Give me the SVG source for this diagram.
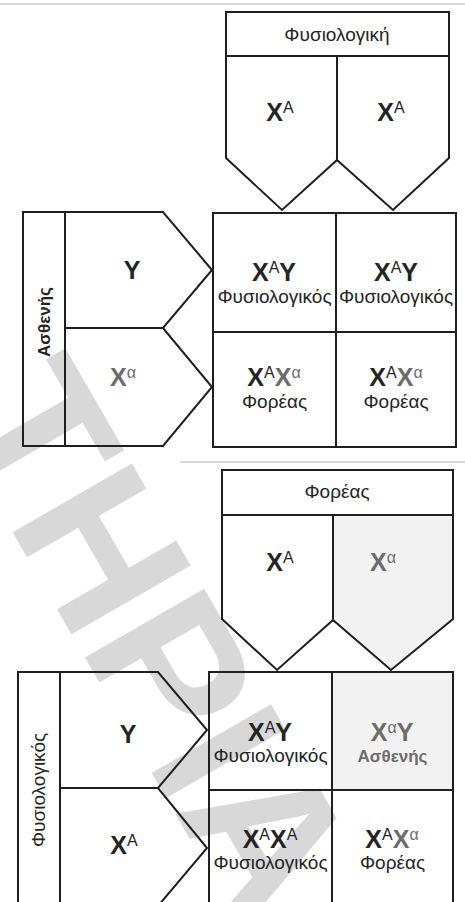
<svg xmlns="http://www.w3.org/2000/svg" width="465" height="902" viewBox="0 0 465 902">
<style>
.ln{fill:none;stroke:#1f1f1f;stroke-width:2;stroke-linejoin:miter}
.tx{font-family:"Liberation Sans",Arial,sans-serif;fill:#242424;text-anchor:middle}
.g{font-size:19px}
.gb{font-size:17px;font-weight:bold}
.al{font-size:25px;font-weight:bold}
.sp{font-size:16px;font-weight:normal}
.mu{fill:#6c6c6c}
.wm{font-family:"Liberation Sans",Arial,sans-serif;font-weight:bold;font-size:200px;fill:#d8d8d8}
.faint{stroke:#cfcad6;stroke-width:1.5}
.tint{fill:#f2f2f2;stroke:none}
</style>
<rect width="465" height="902" fill="#ffffff"/>
<line class="faint" x1="0" y1="4" x2="465" y2="4"/>
<line class="faint" x1="180" y1="462" x2="465" y2="462"/>
<path class="tint" d="M333,515 H453 V619 L391,670 L333,620 Z"/>
<rect class="tint" x="332" y="672" width="121" height="118"/>
<text class="wm" transform="translate(-55,415) rotate(60)">ΤΗΡΙΑ</text>

<g id="mother1-header"><rect class="ln" x="226" y="12" width="223" height="44"/><text class="tx g" x="337" y="41">Φυσιολογική</text></g>
<g id="mother1-allele1"><path class="ln" d="M226,56 H337 V160 L282,210 L226,158 Z"/><text class="tx" x="280" y="121"><tspan class="al">X</tspan><tspan class="sp" dy="-8">A</tspan></text></g>
<g id="mother1-allele2"><path class="ln" d="M337,56 H449 V158 L393,210 L337,160 Z"/><text class="tx" x="391" y="121"><tspan class="al">X</tspan><tspan class="sp" dy="-8">A</tspan></text></g>

<g id="father1-label"><rect class="ln" x="23" y="212" width="42" height="234"/><text class="tx gb" transform="translate(50,322) rotate(-90)">Ασθενής</text></g>
<g id="father1-allele1"><path class="ln" d="M65,212 H163 L212,270 L163,328 H65 Z"/><text class="tx al" x="132" y="279">Y</text></g>
<g id="father1-allele2"><path class="ln" d="M65,328 H163 L212,387 L163,446 H65 Z"/><text class="tx mu" x="123" y="386"><tspan class="al">X</tspan><tspan class="sp" dy="-8">α</tspan></text></g>

<g id="cross1-c11"><rect class="ln" x="213" y="213" width="123" height="119"/><text class="tx" x="274" y="281"><tspan class="al">X</tspan><tspan class="sp" dy="-8">A</tspan><tspan class="al" dy="8">Y</tspan></text><text class="tx g" x="274.5" y="303">Φυσιολογικός</text></g>
<g id="cross1-c12"><rect class="ln" x="336" y="213" width="120" height="119"/><text class="tx" x="396" y="281"><tspan class="al">X</tspan><tspan class="sp" dy="-8">A</tspan><tspan class="al" dy="8">Y</tspan></text><text class="tx g" x="396" y="303">Φυσιολογικός</text></g>
<g id="cross1-c21"><rect class="ln" x="213" y="332" width="123" height="115"/><text class="tx" x="274" y="386"><tspan class="al">X</tspan><tspan class="sp" dy="-8">A</tspan><tspan class="al mu" dy="8">X</tspan><tspan class="sp mu" dy="-8">α</tspan></text><text class="tx g" x="274.5" y="408">Φορέας</text></g>
<g id="cross1-c22"><rect class="ln" x="336" y="332" width="120" height="115"/><text class="tx" x="396" y="386"><tspan class="al">X</tspan><tspan class="sp" dy="-8">A</tspan><tspan class="al mu" dy="8">X</tspan><tspan class="sp mu" dy="-8">α</tspan></text><text class="tx g" x="396" y="408">Φορέας</text></g>

<g id="mother2-header"><rect class="ln" x="222" y="470" width="231" height="45"/><text class="tx g" x="337" y="498">Φορέας</text></g>
<g id="mother2-allele1"><path class="ln" d="M222,515 H333 V620 L277,670 L222,619 Z"/><text class="tx" x="280" y="571"><tspan class="al">X</tspan><tspan class="sp" dy="-8">A</tspan></text></g>
<g id="mother2-allele2"><path class="ln" d="M333,515 H453 V619 L391,670 L333,620 Z"/><text class="tx mu" x="383" y="571"><tspan class="al">X</tspan><tspan class="sp" dy="-8">α</tspan></text></g>

<g id="father2-label"><rect class="ln" x="18" y="672" width="42" height="240"/><text class="tx g" transform="translate(45,790) rotate(-90)">Φυσιολογικός</text></g>
<g id="father2-allele1"><path class="ln" d="M60,672 H158 L207,730 L158,788 H60 Z"/><text class="tx al" x="128" y="743">Y</text></g>
<g id="father2-allele2"><path class="ln" d="M60,788 H158 L207,848 L158,906 H60 Z"/><text class="tx" x="124" y="854"><tspan class="al">X</tspan><tspan class="sp" dy="-8">A</tspan></text></g>

<g id="cross2-c11"><rect class="ln" x="209" y="672" width="123" height="118"/><text class="tx" x="270" y="741"><tspan class="al">X</tspan><tspan class="sp" dy="-8">A</tspan><tspan class="al" dy="8">Y</tspan></text><text class="tx g" x="270.5" y="762">Φυσιολογικός</text></g>
<g id="cross2-c12"><rect class="ln" x="332" y="672" width="121" height="118"/><text class="tx mu" x="392" y="741"><tspan class="al">X</tspan><tspan class="sp" dy="-8">α</tspan><tspan class="al" dy="8">Y</tspan></text><text class="tx gb mu" x="392.5" y="762">Ασθενής</text></g>
<g id="cross2-c21"><rect class="ln" x="209" y="790" width="123" height="120"/><text class="tx" x="270" y="848"><tspan class="al">X</tspan><tspan class="sp" dy="-8">A</tspan><tspan class="al" dy="8">X</tspan><tspan class="sp" dy="-8">A</tspan></text><text class="tx g" x="270.5" y="869">Φυσιολογικός</text></g>
<g id="cross2-c22"><rect class="ln" x="332" y="790" width="121" height="120"/><text class="tx" x="392" y="848"><tspan class="al">X</tspan><tspan class="sp" dy="-8">A</tspan><tspan class="al mu" dy="8">X</tspan><tspan class="sp mu" dy="-8">α</tspan></text><text class="tx g" x="392.5" y="869">Φορέας</text></g>

<g id="connectors"></g>
</svg>
